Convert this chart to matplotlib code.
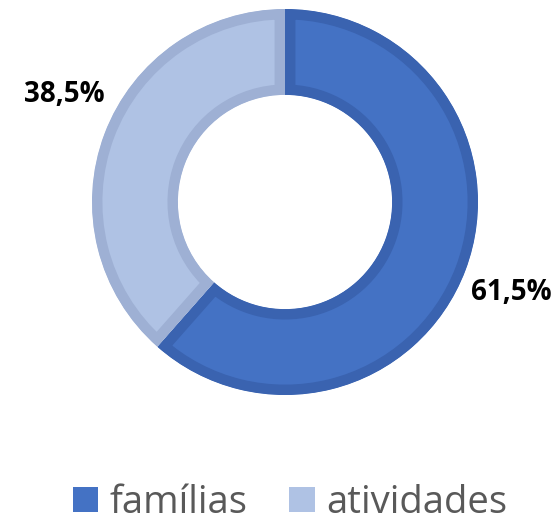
import matplotlib
matplotlib.use("Agg")
import matplotlib.pyplot as plt
from matplotlib.patches import Patch

categories = ["famílias", "atividades"]
values = [61.5, 38.5]
labels = ["61,5%", "38,5%"]
fills = ["#4472C4", "#AFC2E4"]
edges = ["#3A63B0", "#9EB0D4"]

W, H = 560, 524
fig = plt.figure(figsize=(W/100, H/100), dpi=100)
cx, cy, r = 285, 202, 193
ax = fig.add_axes([(cx-r)/W, (H-cy-r)/H, 2*r/W, 2*r/H])

wedges, _ = ax.pie(values, radius=1, startangle=90, counterclock=False,
                   colors=fills, wedgeprops=dict(width=0.445, linewidth=15, edgecolor="none"))
for w, ec in zip(wedges, edges):
    w.set_edgecolor(ec)
    w.set_clip_on(True)
    w.set_clip_path(w)
ax.set_xlim(-1, 1); ax.set_ylim(-1, 1)
ax.set_aspect("equal"); ax.axis("off")

font = ["Open Sans", "DejaVu Sans"]
fig.text(511/W, 1-292/H, labels[0], ha="center", va="center", fontsize=20, fontweight="bold", family=font)
fig.text(64/W, 1-95/H, labels[1], ha="center", va="center", fontsize=20, fontweight="bold", family=font)

handles = [Patch(facecolor=f, edgecolor="none") for f in fills]
fig.legend(handles, categories, loc="center", bbox_to_anchor=(290/W, 1-503/H), ncol=2, frameon=False,
           prop=dict(family=font, size=27.5), handlelength=0.66, handleheight=0.66, handletextpad=0.3,
           columnspacing=1.1, borderpad=0, labelcolor="#595959")
fig.savefig("out.png", dpi=100)
